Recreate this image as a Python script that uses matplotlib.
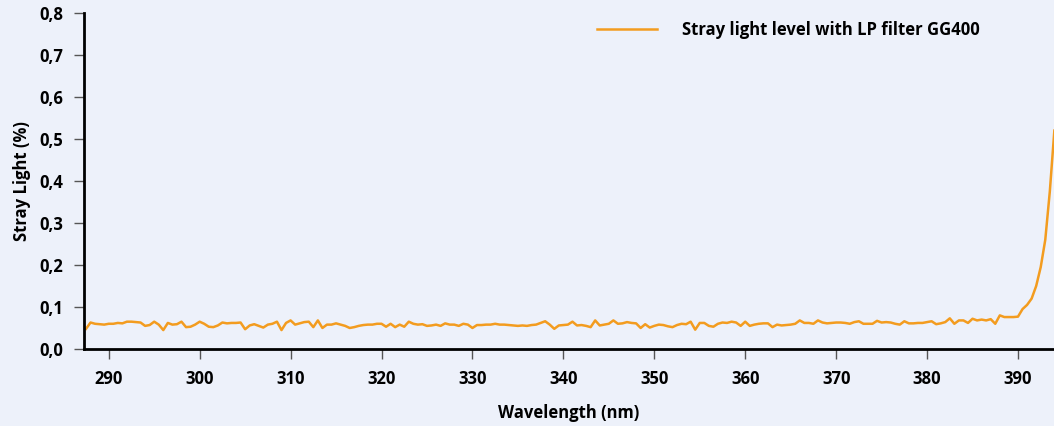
import numpy as np
import matplotlib
matplotlib.use("Agg")
import matplotlib.pyplot as plt
from matplotlib.ticker import FuncFormatter

# wavelength grid (nm), 0.5 nm steps
wavelength = np.arange(287.5, 394.01, 0.5)

# stray light (%), 10 values per 5 nm
stray = [
    0.048, 0.063, 0.060, 0.059, 0.058, 0.060, 0.060, 0.062, 0.061, 0.065,
    0.065, 0.064, 0.063, 0.055, 0.057, 0.065, 0.058, 0.045, 0.062, 0.058,
    0.059, 0.065, 0.052, 0.053, 0.058, 0.065, 0.060, 0.053, 0.052, 0.056,
    0.063, 0.061, 0.062, 0.062, 0.063, 0.047, 0.056, 0.059, 0.055, 0.051,
    0.058, 0.060, 0.065, 0.045, 0.062, 0.068, 0.058, 0.061, 0.064, 0.065,
    0.052, 0.068, 0.050, 0.058, 0.058, 0.061, 0.058, 0.055, 0.050, 0.052,
    0.055, 0.057, 0.058, 0.058, 0.060, 0.060, 0.053, 0.060, 0.052, 0.058,
    0.053, 0.065, 0.060, 0.058, 0.059, 0.055, 0.056, 0.058, 0.055, 0.061,
    0.058, 0.058, 0.055, 0.060, 0.058, 0.050, 0.057, 0.057, 0.058, 0.058,
    0.060, 0.058, 0.058, 0.057, 0.056, 0.055, 0.056, 0.055, 0.057, 0.058,
    0.062, 0.066, 0.058, 0.048, 0.056, 0.057, 0.058, 0.065, 0.056, 0.057,
    0.055, 0.052, 0.068, 0.056, 0.058, 0.060, 0.068, 0.060, 0.061, 0.064,
    0.062, 0.061, 0.050, 0.059, 0.051, 0.055, 0.058, 0.057, 0.054, 0.052,
    0.057, 0.060, 0.059, 0.065, 0.046, 0.062, 0.062, 0.055, 0.053, 0.060,
    0.063, 0.062, 0.065, 0.063, 0.055, 0.065, 0.055, 0.058, 0.060, 0.061,
    0.061, 0.052, 0.058, 0.056, 0.057, 0.058, 0.060, 0.068, 0.062, 0.062,
    0.060, 0.068, 0.063, 0.061, 0.062, 0.063, 0.063, 0.062, 0.060, 0.064,
    0.066, 0.060, 0.060, 0.060, 0.067, 0.063, 0.064, 0.063, 0.060, 0.058,
    0.066, 0.061, 0.061, 0.062, 0.062, 0.064, 0.066, 0.059, 0.061, 0.064,
    0.073, 0.060, 0.068, 0.068, 0.062, 0.072, 0.068, 0.070, 0.068, 0.071,
    0.060, 0.080, 0.076, 0.076, 0.076, 0.077, 0.095, 0.105, 0.120, 0.150,
    0.195, 0.260, 0.375, 0.520,
]

x_ticks = [290, 300, 310, 320, 330, 340, 350, 360, 370, 380, 390]
y_ticks = [0.0, 0.1, 0.2, 0.3, 0.4, 0.5, 0.6, 0.7, 0.8]
label = "Stray light level with LP filter GG400"

bg = "#edf1fa"
orange = "#f39c1f"

plt.rcParams["font.family"] = ["Open Sans", "DejaVu Sans"]

fig = plt.figure(figsize=(10.54, 4.26), dpi=100, facecolor=bg)
ax = fig.add_axes([0.0797, 0.1808, 0.9203, 0.7887], facecolor=bg)

line, = ax.plot(wavelength, stray, color=orange, lw=1.8, label=label)

ax.set_xlim(287.28, 393.96)
ax.set_ylim(0, 0.8)
ax.set_xticks(x_ticks)
ax.set_yticks(y_ticks)
ax.yaxis.set_major_formatter(FuncFormatter(lambda v, p: f"{v:.1f}".replace(".", ",")))

for s in ["top", "right"]:
    ax.spines[s].set_visible(False)
for s in ["left", "bottom"]:
    ax.spines[s].set_linewidth(2)
    ax.spines[s].set_color("black")

ax.tick_params(length=7, width=1, color="#555555", labelsize=12, pad=8)
for t in ax.get_xticklabels() + ax.get_yticklabels():
    t.set_fontweight("bold")

ax.set_xlabel("Wavelength (nm)", fontsize=12, fontweight="bold", labelpad=12)
ax.set_ylabel("Stray Light (%)", fontsize=12, fontweight="bold", labelpad=6)

fig.legend(handles=[line], loc="center left", bbox_to_anchor=(589 / 1054, 1 - 30 / 426),
           frameon=False, handlelength=3.6, handletextpad=1.5, borderpad=0,
           prop={"size": 12, "weight": "bold"})

fig.savefig("out.png", dpi=100, facecolor=bg)
